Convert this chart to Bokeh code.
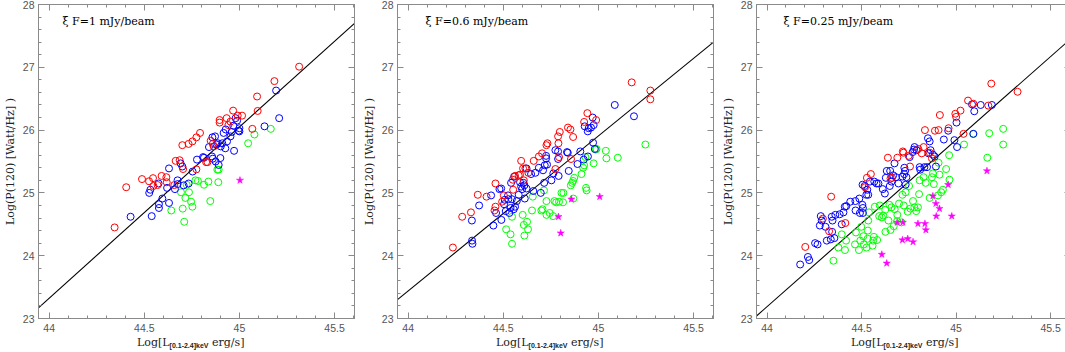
from bokeh.plotting import figure
from bokeh.layouts import row, column
from bokeh.models import Range1d, SingleIntervalTicker, LinearAxis, Label, Div
from bokeh.embed import file_html
from bokeh.resources import INLINE

# ---------------- data ----------------
x_range_vals = [43.944, 45.605]
y_range_vals = [23.0, 28.0]

fit_x = [43.944, 45.605]
fit1_y = [23.17, 27.70]
fit2_y = [23.30, 27.40]
fit3_y = [23.04, 27.45]

titles = ["\u03be F=1 mJy/beam", "\u03be F=0.6 mJy/beam", "\u03be F=0.25 mJy/beam"]
y_label = "Log(P(120) [Watt/Hz] )"
x_label_main = "Log[L"
x_label_sub = "[0.1-2.4]keV"
x_label_tail = " erg/s]"

# panel 1
p1_red_x = [44.344, 44.405, 44.488, 44.525, 44.546, 44.548, 44.570, 44.591, 44.616, 44.618,
            44.658, 44.665, 44.686, 44.704, 44.700, 44.733, 44.753, 44.774, 44.793, 44.774,
            44.825, 44.832, 44.849, 44.860, 44.865, 44.896, 44.896, 44.933, 44.953, 44.967,
            44.942, 44.991, 45.014, 45.068, 45.093, 45.096, 45.184, 45.314]
p1_red_y = [24.45, 25.09, 25.22, 25.185, 25.235, 25.11, 25.125, 25.27, 25.25, 25.17,
            25.125, 25.51, 25.52, 25.38, 25.76, 25.78, 25.82, 25.885, 25.955, 25.375,
            25.49, 25.49, 25.83, 25.78, 25.74, 26.16, 26.12, 26.19, 26.135, 26.31,
            26.08, 26.23, 26.23, 26.02, 26.535, 26.305, 26.78, 27.01]
p1_blue_x = [44.428, 44.539, 44.526, 44.532, 44.575, 44.577, 44.577, 44.595, 44.620, 44.630,
             44.630, 44.661, 44.675, 44.675, 44.691, 44.700, 44.707, 44.733, 44.754, 44.777,
             44.809, 44.814, 44.840, 44.856, 44.858, 44.860, 44.872, 44.875, 44.880, 44.887,
             44.891, 44.900, 44.902, 44.910, 44.917, 44.928, 44.926, 44.935, 44.953, 44.960,
             44.968, 44.972, 44.980, 44.988, 44.996, 45.000, 45.000, 45.132, 45.193, 45.209]
p1_blue_y = [24.62, 24.63, 25.00, 25.05, 25.15, 24.82, 24.76, 24.91, 25.08, 25.39,
             24.84, 25.06, 25.14, 25.20, 25.47, 25.42, 25.12, 25.15, 25.34, 25.53,
             25.57, 25.56, 25.73, 25.58, 25.885, 25.545, 25.90, 25.50, 25.77, 25.79,
             25.445, 25.555, 25.74, 25.79, 25.955, 26.01, 25.71, 25.82, 25.90, 25.97,
             26.07, 25.67, 26.19, 26.15, 25.99, 26.03, 25.98, 26.06, 26.63, 26.19]
p1_green_x = [44.693, 44.642, 44.702, 44.710, 44.716, 44.723, 44.735, 44.746, 44.753, 44.769,
              44.782, 44.814, 44.837, 44.847, 44.884, 44.891, 44.889, 45.046, 45.079, 45.165]
p1_green_y = [25.01, 24.72, 24.75, 24.54, 24.92, 25.13, 25.01, 24.86, 24.78, 25.20,
              25.19, 25.13, 25.18, 24.87, 25.37, 25.37, 25.17, 25.79, 25.93, 26.02]
p1_star_x = [45.003]
p1_star_y = [25.20]

# panel 2
p2_red_x = [44.235, 44.284, 44.330, 44.366, 44.412, 44.459, 44.459, 44.454, 44.494, 44.503,
            44.552, 44.550, 44.562, 44.581, 44.588, 44.594, 44.604, 44.608, 44.616, 44.632,
            44.660, 44.687, 44.704, 44.727, 44.732, 44.774, 44.788, 44.790, 44.793, 44.797,
            44.840, 44.853, 44.856, 44.867, 44.925, 44.942, 44.988, 45.175, 45.273, 45.273]
p2_red_y = [24.13, 24.62, 24.69, 24.97, 24.94, 25.15, 24.78, 24.72, 24.86, 24.96,
            25.05, 25.21, 25.27, 25.28, 25.29, 25.51, 25.39, 25.20, 25.39, 25.32,
            25.51, 25.58, 25.63, 25.76, 25.79, 25.38, 25.90, 25.79, 25.57, 25.97,
            26.04, 26.01, 25.54, 25.89, 26.13, 26.27, 26.16, 26.76, 26.63, 26.49]
p2_blue_x = [44.335, 44.336, 44.338, 44.373, 44.436, 44.448, 44.462, 44.480, 44.489, 44.490,
             44.504, 44.508, 44.513, 44.525, 44.527, 44.532, 44.538, 44.541, 44.545, 44.557,
             44.562, 44.555, 44.571, 44.581, 44.588, 44.594, 44.599, 44.606, 44.611, 44.613,
             44.622, 44.622, 44.646, 44.658, 44.669, 44.687, 44.697, 44.709, 44.715, 44.718,
             44.725, 44.725, 44.730, 44.753, 44.763, 44.774, 44.788, 44.788, 44.791, 44.835,
             44.844, 44.839, 44.890, 44.905, 44.923, 44.928, 44.944, 44.945, 44.949, 44.961,
             44.970, 44.975, 44.972, 44.981, 45.086, 45.187]
p2_blue_y = [24.56, 24.24, 24.19, 24.80, 24.96, 24.48, 24.68, 25.06, 25.07, 24.57,
             24.82, 24.89, 24.71, 24.96, 24.90, 24.68, 24.76, 25.16, 24.90, 25.26,
             24.78, 24.74, 24.87, 24.97, 25.17, 25.10, 25.06, 25.16, 25.12, 24.91,
             25.39, 25.07, 25.30, 25.03, 25.32, 25.40, 25.00, 25.36, 25.16, 25.44,
             25.59, 25.55, 25.45, 25.20, 25.31, 25.68, 25.66, 25.54, 25.27, 25.65,
             25.35, 25.64, 25.46, 25.66, 25.53, 26.06, 25.98, 25.58, 26.03, 26.04,
             26.20, 26.08, 25.80, 25.70, 26.40, 26.22]
p2_green_x = [44.546, 44.515, 44.538, 44.546, 44.602, 44.608, 44.611, 44.625, 44.630, 44.651,
              44.655, 44.714, 44.700, 44.706, 44.727, 44.727, 44.744, 44.762, 44.769, 44.778,
              44.793, 44.806, 44.816, 44.814, 44.855, 44.862, 44.867, 44.873, 44.868, 44.911,
              44.920, 44.925, 44.932, 44.935, 44.938, 44.975, 44.986, 44.990, 45.039, 45.042,
              45.102, 45.247]
p2_green_y = [24.62, 24.42, 24.34, 24.19, 24.65, 24.49, 24.32, 24.54, 24.42, 24.72,
              24.94, 25.04, 24.72, 24.74, 24.87, 24.65, 24.68, 24.63, 24.87, 24.85,
              24.86, 25.00, 25.00, 24.85, 25.12, 25.16, 25.19, 25.24, 24.91, 25.30,
              25.40, 25.44, 25.57, 25.08, 25.04, 25.47, 25.69, 25.70, 25.67, 25.55,
              25.56, 25.77]
p2_star_x = [44.790, 44.858, 44.802, 45.007]
p2_star_y = [24.62, 24.90, 24.36, 24.94]

# panel 3
p3_red_x = [44.202, 44.295, 44.328, 44.339, 44.414, 44.518, 44.528, 44.549, 44.653, 44.639,
            44.661, 44.689, 44.718, 44.721, 44.749, 44.756, 44.800, 44.818, 44.828, 44.835,
            44.861, 44.872, 44.888, 44.907, 44.914, 44.960, 44.996, 45.000, 45.023, 45.039,
            45.063, 45.091, 45.170, 45.186, 45.325]
p3_red_y = [24.14, 24.59, 24.39, 24.94, 24.52, 25.09, 25.24, 25.30, 25.23, 25.56,
            25.24, 25.56, 25.66, 25.64, 25.59, 25.42, 25.70, 25.63, 25.73, 26.00,
            25.64, 25.55, 25.99, 26.00, 26.24, 26.03, 26.26, 26.21, 26.31, 25.94,
            26.47, 26.42, 26.39, 26.74, 26.61]
p3_blue_x = [44.175, 44.216, 44.223, 44.254, 44.267, 44.279, 44.284, 44.289, 44.309, 44.316,
             44.337, 44.342, 44.346, 44.344, 44.356, 44.361, 44.384, 44.395, 44.404, 44.411,
             44.419, 44.440, 44.467, 44.468, 44.488, 44.491, 44.504, 44.507, 44.507, 44.525,
             44.530, 44.535, 44.505, 44.516, 44.544, 44.567, 44.579, 44.589, 44.612, 44.623,
             44.628, 44.633, 44.651, 44.649, 44.658, 44.667, 44.674, 44.682, 44.695, 44.716,
             44.725, 44.726, 44.730, 44.733, 44.737, 44.754, 44.770, 44.777, 44.791, 44.807,
             44.810, 44.832, 44.846, 44.854, 44.865, 44.877, 44.886, 44.893, 44.935, 44.958,
             44.991, 45.005, 45.002, 45.091, 45.096, 45.130, 45.189, 45.084, 44.851, 44.860,
             44.780]
p3_blue_y = [23.86, 23.98, 23.93, 24.20, 24.18, 24.48, 24.63, 24.56, 24.46, 24.24,
             24.26, 24.62, 24.56, 24.38, 24.28, 24.65, 24.66, 24.50, 24.69, 24.78,
             24.79, 24.86, 24.87, 24.72, 24.91, 24.68, 24.81, 24.76, 24.68, 24.97,
             25.05, 24.97, 25.13, 25.11, 25.18, 25.18, 25.15, 25.15, 25.06, 24.99,
             25.24, 25.35, 25.35, 25.11, 25.18, 25.28, 25.47, 25.25, 25.15, 25.26,
             25.30, 25.40, 25.35, 25.13, 25.25, 25.57, 25.65, 25.69, 25.68, 25.41,
             25.37, 25.41, 25.41, 25.63, 25.68, 25.61, 25.58, 25.42, 25.85, 25.99,
             25.84, 25.73, 26.12, 25.94, 26.30, 26.40, 26.40, 26.41, 25.87, 25.82,
             25.73]
p3_green_x = [44.351, 44.377, 44.395, 44.412, 44.418, 44.465, 44.470, 44.486, 44.493, 44.509,
              44.512, 44.498, 44.532, 44.533, 44.535, 44.539, 44.526, 44.558, 44.561, 44.565,
              44.570, 44.582, 44.593, 44.596, 44.607, 44.614, 44.625, 44.626, 44.642, 44.647,
              44.653, 44.658, 44.670, 44.675, 44.688, 44.689, 44.698, 44.711, 44.716, 44.723,
              44.733, 44.744, 44.751, 44.758, 44.772, 44.779, 44.789, 44.798, 44.804, 44.807,
              44.828, 44.839, 44.860, 44.872, 44.882, 44.904, 44.912, 44.921, 44.930, 44.947,
              44.963, 44.965, 45.042, 45.091, 45.165, 45.175, 45.249, 45.249, 44.907, 44.877]
p3_green_y = [23.92, 24.13, 24.34, 24.09, 24.24, 24.18, 24.37, 24.09, 24.24, 24.31,
              24.18, 24.46, 24.27, 24.40, 24.56, 24.69, 24.13, 24.16, 24.24, 24.30,
              24.78, 24.25, 24.63, 24.80, 24.61, 24.64, 24.73, 24.38, 24.56, 24.81,
              24.41, 24.77, 24.47, 24.74, 24.55, 24.65, 24.83, 24.53, 24.97, 24.80,
              25.01, 24.70, 25.11, 24.75, 24.87, 24.77, 24.71, 24.77, 24.98, 25.20,
              25.25, 25.16, 24.92, 25.25, 25.14, 24.96, 25.29, 25.01, 25.05, 25.38,
              25.60, 25.21, 25.77, 25.94, 25.56, 25.95, 26.02, 25.77, 25.48, 25.31]
p3_star_x = [44.607, 44.633, 44.688, 44.718, 44.716, 44.744, 44.772, 44.798, 44.835, 44.840,
             44.877, 44.893, 44.912, 44.895, 44.958, 44.977, 45.163]
p3_star_y = [24.02, 23.88, 24.53, 24.53, 24.25, 24.27, 24.22, 24.51, 24.51, 24.41,
             24.95, 24.83, 24.75, 24.63, 25.13, 24.63, 25.35]

panels = [
    dict(red=(p1_red_x, p1_red_y), blue=(p1_blue_x, p1_blue_y), green=(p1_green_x, p1_green_y),
         star=(p1_star_x, p1_star_y), fit=fit1_y, title=titles[0]),
    dict(red=(p2_red_x, p2_red_y), blue=(p2_blue_x, p2_blue_y), green=(p2_green_x, p2_green_y),
         star=(p2_star_x, p2_star_y), fit=fit2_y, title=titles[1]),
    dict(red=(p3_red_x, p3_red_y), blue=(p3_blue_x, p3_blue_y), green=(p3_green_x, p3_green_y),
         star=(p3_star_x, p3_star_y), fit=fit3_y, title=titles[2]),
]

# ---------------- styling / layout ----------------
FRAME_C = "#8a8a8a"
TICK_LBL_C = "#555555"
SERIF = "DejaVu Serif"
SANS = "Liberation Sans"

layout_cfg = [
    dict(fw=316, lb=35, rb=5, title_off=24),
    dict(fw=316, lb=36, rb=5, title_off=28),
    dict(fw=314, lb=36, rb=1, title_off=27),
]
xlabel_left = [137, 496, 851]

figs = []
for pan, cfg in zip(panels, layout_cfg):
    p = figure(frame_width=cfg["fw"], frame_height=314,
               x_range=Range1d(*x_range_vals), y_range=Range1d(*y_range_vals),
               output_backend="svg", toolbar_location=None,
               min_border_left=cfg["lb"], min_border_right=cfg["rb"],
               min_border_top=4, min_border_bottom=18,
               x_axis_type=None, y_axis_type=None)
    p.grid.visible = False
    p.outline_line_color = FRAME_C
    p.outline_line_width = 1
    p.background_fill_color = "white"
    p.border_fill_color = "white"

    def mk_axis(interval, show_labels, standoff):
        ax = LinearAxis(ticker=SingleIntervalTicker(interval=interval, num_minor_ticks=5))
        ax.axis_line_color = FRAME_C
        ax.major_tick_line_color = FRAME_C
        ax.minor_tick_line_color = FRAME_C
        ax.major_tick_in = 6
        ax.major_tick_out = 0
        ax.minor_tick_in = 3
        ax.minor_tick_out = 0
        if show_labels:
            ax.major_label_text_font = SANS
            ax.major_label_text_font_size = "10.5px"
            ax.major_label_text_color = TICK_LBL_C
            ax.major_label_standoff = standoff
        else:
            ax.major_label_text_font_size = "0px"
            ax.major_label_text_alpha = 0
            ax.major_label_standoff = 0
        return ax

    p.add_layout(mk_axis(0.5, True, 5), "below")
    yax = mk_axis(1.0, True, 4)
    yax.axis_label = y_label
    yax.axis_label_text_font = SERIF
    yax.axis_label_text_font_size = "11px"
    yax.axis_label_text_font_style = "normal"
    yax.axis_label_text_color = "#222222"
    yax.axis_label_standoff = 3
    p.add_layout(yax, "left")
    p.add_layout(mk_axis(0.5, False, 0), "above")
    p.add_layout(mk_axis(1.0, False, 0), "right")

    # fit line
    p.line(fit_x, pan["fit"], line_color="black", line_width=1.1)

    # points
    for key, col in (("green", "#00ff00"), ("blue", "#0000ff"), ("red", "#ff0000")):
        xs, ys = pan[key]
        p.scatter(xs, ys, marker="circle", size=7, fill_color=None, line_color=col, line_width=1)
    sx, sy = pan["star"]
    p.scatter(sx, sy, marker="star", size=7.5, fill_color="#ff00ff", line_color="#ff00ff", line_width=0.5)

    # title text inside the frame
    p.add_layout(Label(x=x_range_vals[0], y=y_range_vals[1], x_offset=cfg["title_off"], y_offset=-16.5,
                       text=pan["title"], text_font=SERIF, text_font_size="11px", text_color="black",
                       text_align="left", text_baseline="middle"))
    figs.append(p)

# x axis labels (with subscript) as real HTML text below the plots
spans = "".join(
    '<span style="position:absolute; left:%dpx; top:0px; white-space:nowrap; line-height:13px; '
    'font-family:\'DejaVu Serif\'; font-size:11px; color:#222222;">%s'
    '<span style="font-family:\'Liberation Sans\'; font-size:7px; font-weight:bold; '
    'position:relative; top:2px;">%s</span>%s</span>' % (lx, x_label_main, x_label_sub, x_label_tail)
    for lx in xlabel_left
)
xdiv = Div(text='<div style="position:relative; width:1064px; height:15px;">%s</div>' % spans,
           width=1064, height=15, margin=0)

layout = column(row(*figs, spacing=0), xdiv, spacing=0)
open("out.html", "w").write(file_html(layout, INLINE))
